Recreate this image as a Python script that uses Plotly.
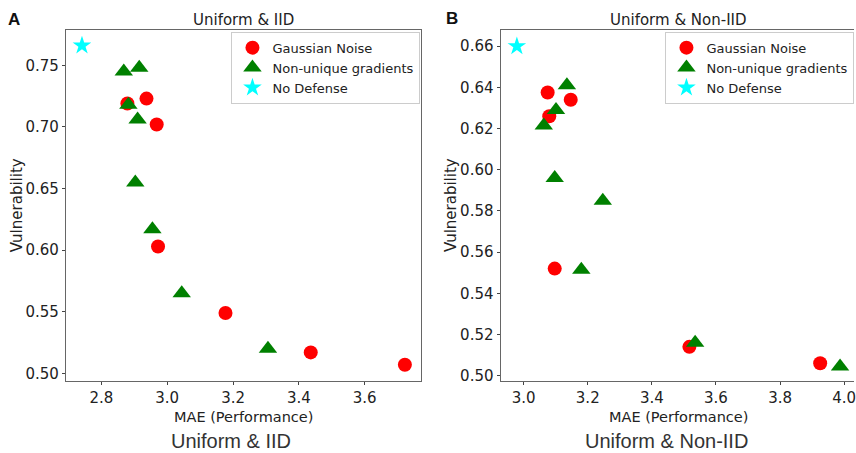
import plotly.graph_objects as go

# Panel A: Uniform & IID
a_gauss_x = [2.879, 2.937, 2.968, 2.972, 3.177, 3.436, 3.722]
a_gauss_y = [0.719, 0.723, 0.702, 0.603, 0.549, 0.517, 0.507]
a_nug_x = [2.868, 2.915, 2.882, 2.910, 2.903, 2.955, 3.044, 3.306]
a_nug_y = [0.745, 0.748, 0.718, 0.706, 0.655, 0.617, 0.565, 0.520]
a_nodef_x = [2.741]
a_nodef_y = [0.766]

# Panel B: Uniform & Non-IID
b_gauss_x = [3.075, 3.147, 3.080, 3.097, 3.517, 3.925]
b_gauss_y = [0.6375, 0.634, 0.626, 0.552, 0.514, 0.506]
b_nug_x = [3.135, 3.101, 3.063, 3.097, 3.247, 3.180, 3.535, 3.987]
b_nug_y = [0.641, 0.629, 0.6215, 0.596, 0.585, 0.5515, 0.516, 0.5045]
b_nodef_x = [2.979]
b_nodef_y = [0.660]

a_xticks = [2.8, 3.0, 3.2, 3.4, 3.6]
a_yticks = [0.50, 0.55, 0.60, 0.65, 0.70, 0.75]
b_xticks = [3.0, 3.2, 3.4, 3.6, 3.8, 4.0]
b_yticks = [0.50, 0.52, 0.54, 0.56, 0.58, 0.60, 0.62, 0.64, 0.66]

W, H = 856, 453
TICKFONT = dict(family="DejaVu Sans", size=15, color="#222")

fig = go.Figure()

def add_panel(xa, ya, legend, gx, gy, nx, ny, sx, sy):
    fig.add_trace(go.Scatter(x=gx, y=gy, mode="markers", name="Gaussian Noise",
                             marker=dict(symbol="circle", size=14, color="#ff0000"),
                             xaxis=xa, yaxis=ya, legend=legend))
    fig.add_trace(go.Scatter(x=nx, y=ny, mode="markers", name="Non-unique gradients",
                             marker=dict(symbol="triangle-up", size=16, color="#008000"),
                             xaxis=xa, yaxis=ya, legend=legend))
    fig.add_trace(go.Scatter(x=sx, y=sy, mode="markers", name="No Defense",
                             marker=dict(symbol="star", size=14, color="#00ffff", line=dict(width=0)),
                             xaxis=xa, yaxis=ya, legend=legend))

add_panel("x", "y", "legend", a_gauss_x, a_gauss_y, a_nug_x, a_nug_y, a_nodef_x, a_nodef_y)
add_panel("x2", "y2", "legend2", b_gauss_x, b_gauss_y, b_nug_x, b_nug_y, b_nodef_x, b_nodef_y)

def px2x(p):
    return p / W

def px2y(p):
    return 1 - p / H

axis_common = dict(showgrid=False, zeroline=False, showline=True, linecolor="#666",
                   linewidth=1, ticks="outside", ticklen=3, tickcolor="#444",
                   tickfont=TICKFONT, ticklabeloverflow="allow")

legend_common = dict(xanchor="left", yanchor="top",
                     bgcolor="white", bordercolor="#cccccc", borderwidth=1,
                     font=dict(family="DejaVu Sans", size=13, color="#222"),
                     itemsizing="trace", tracegroupgap=0)

fig.update_layout(
    width=W, height=H, margin=dict(l=0, r=0, t=0, b=0),
    paper_bgcolor="white", plot_bgcolor="white",
    xaxis=dict(domain=[px2x(66), px2x(422)], range=[2.692, 3.771], tickvals=a_xticks,
               ticktext=[f"{v:.1f}" for v in a_xticks], anchor="y", mirror=True, **axis_common),
    yaxis=dict(domain=[px2y(384), px2y(30)], range=[0.4941, 0.7789], tickvals=a_yticks,
               ticktext=[f"{v:.2f}" for v in a_yticks], anchor="x", mirror=True, **axis_common),
    xaxis2=dict(domain=[px2x(501.7), 1.0], range=[2.928, 4.0305], tickvals=b_xticks,
                ticktext=[f"{v:.1f}" for v in b_xticks], anchor="y2", mirror=True, **axis_common),
    yaxis2=dict(domain=[px2y(384), px2y(30)], range=[0.4976, 0.668], tickvals=b_yticks,
                ticktext=[f"{v:.2f}" for v in b_yticks], anchor="x2", mirror=False, **axis_common),
    legend=dict(x=px2x(232), y=px2y(32), **legend_common),
    legend2=dict(x=px2x(667), y=px2y(32), **legend_common),
    showlegend=True,
)

def ann(text, x, y, size, family="DejaVu Sans", angle=0, bold=False, color="#222"):
    fig.add_annotation(text=f"<b>{text}</b>" if bold else text,
                       x=px2x(x), y=px2y(y), xref="paper", yref="paper",
                       xanchor="center", yanchor="middle", showarrow=False, textangle=angle,
                       borderpad=0,
                       font=dict(family=family, size=size, color=color))

# panel titles
ann("Uniform &amp; IID", 244, 20, 15)
ann("Uniform &amp; Non-IID", 680, 20, 15)
# axis titles
ann("MAE (Performance)", 244, 421, 14.5)
ann("MAE (Performance)", 680, 421, 14.5)
ann("Vulnerability", 17, 207, 15, angle=-90)
ann("Vulnerability", 452, 207, 15, angle=-90)
# captions
ann("Uniform &amp; IID", 232, 445, 20, family="Liberation Sans", color="#333")
ann("Uniform &amp; Non-IID", 668, 445, 20, family="Liberation Sans", color="#333")
# panel letters
ann("A", 14, 20, 17, family="Liberation Sans", bold=True, color="#111")
ann("B", 453, 19, 17, family="Liberation Sans", bold=True, color="#111")

fig.write_html("out.html")
